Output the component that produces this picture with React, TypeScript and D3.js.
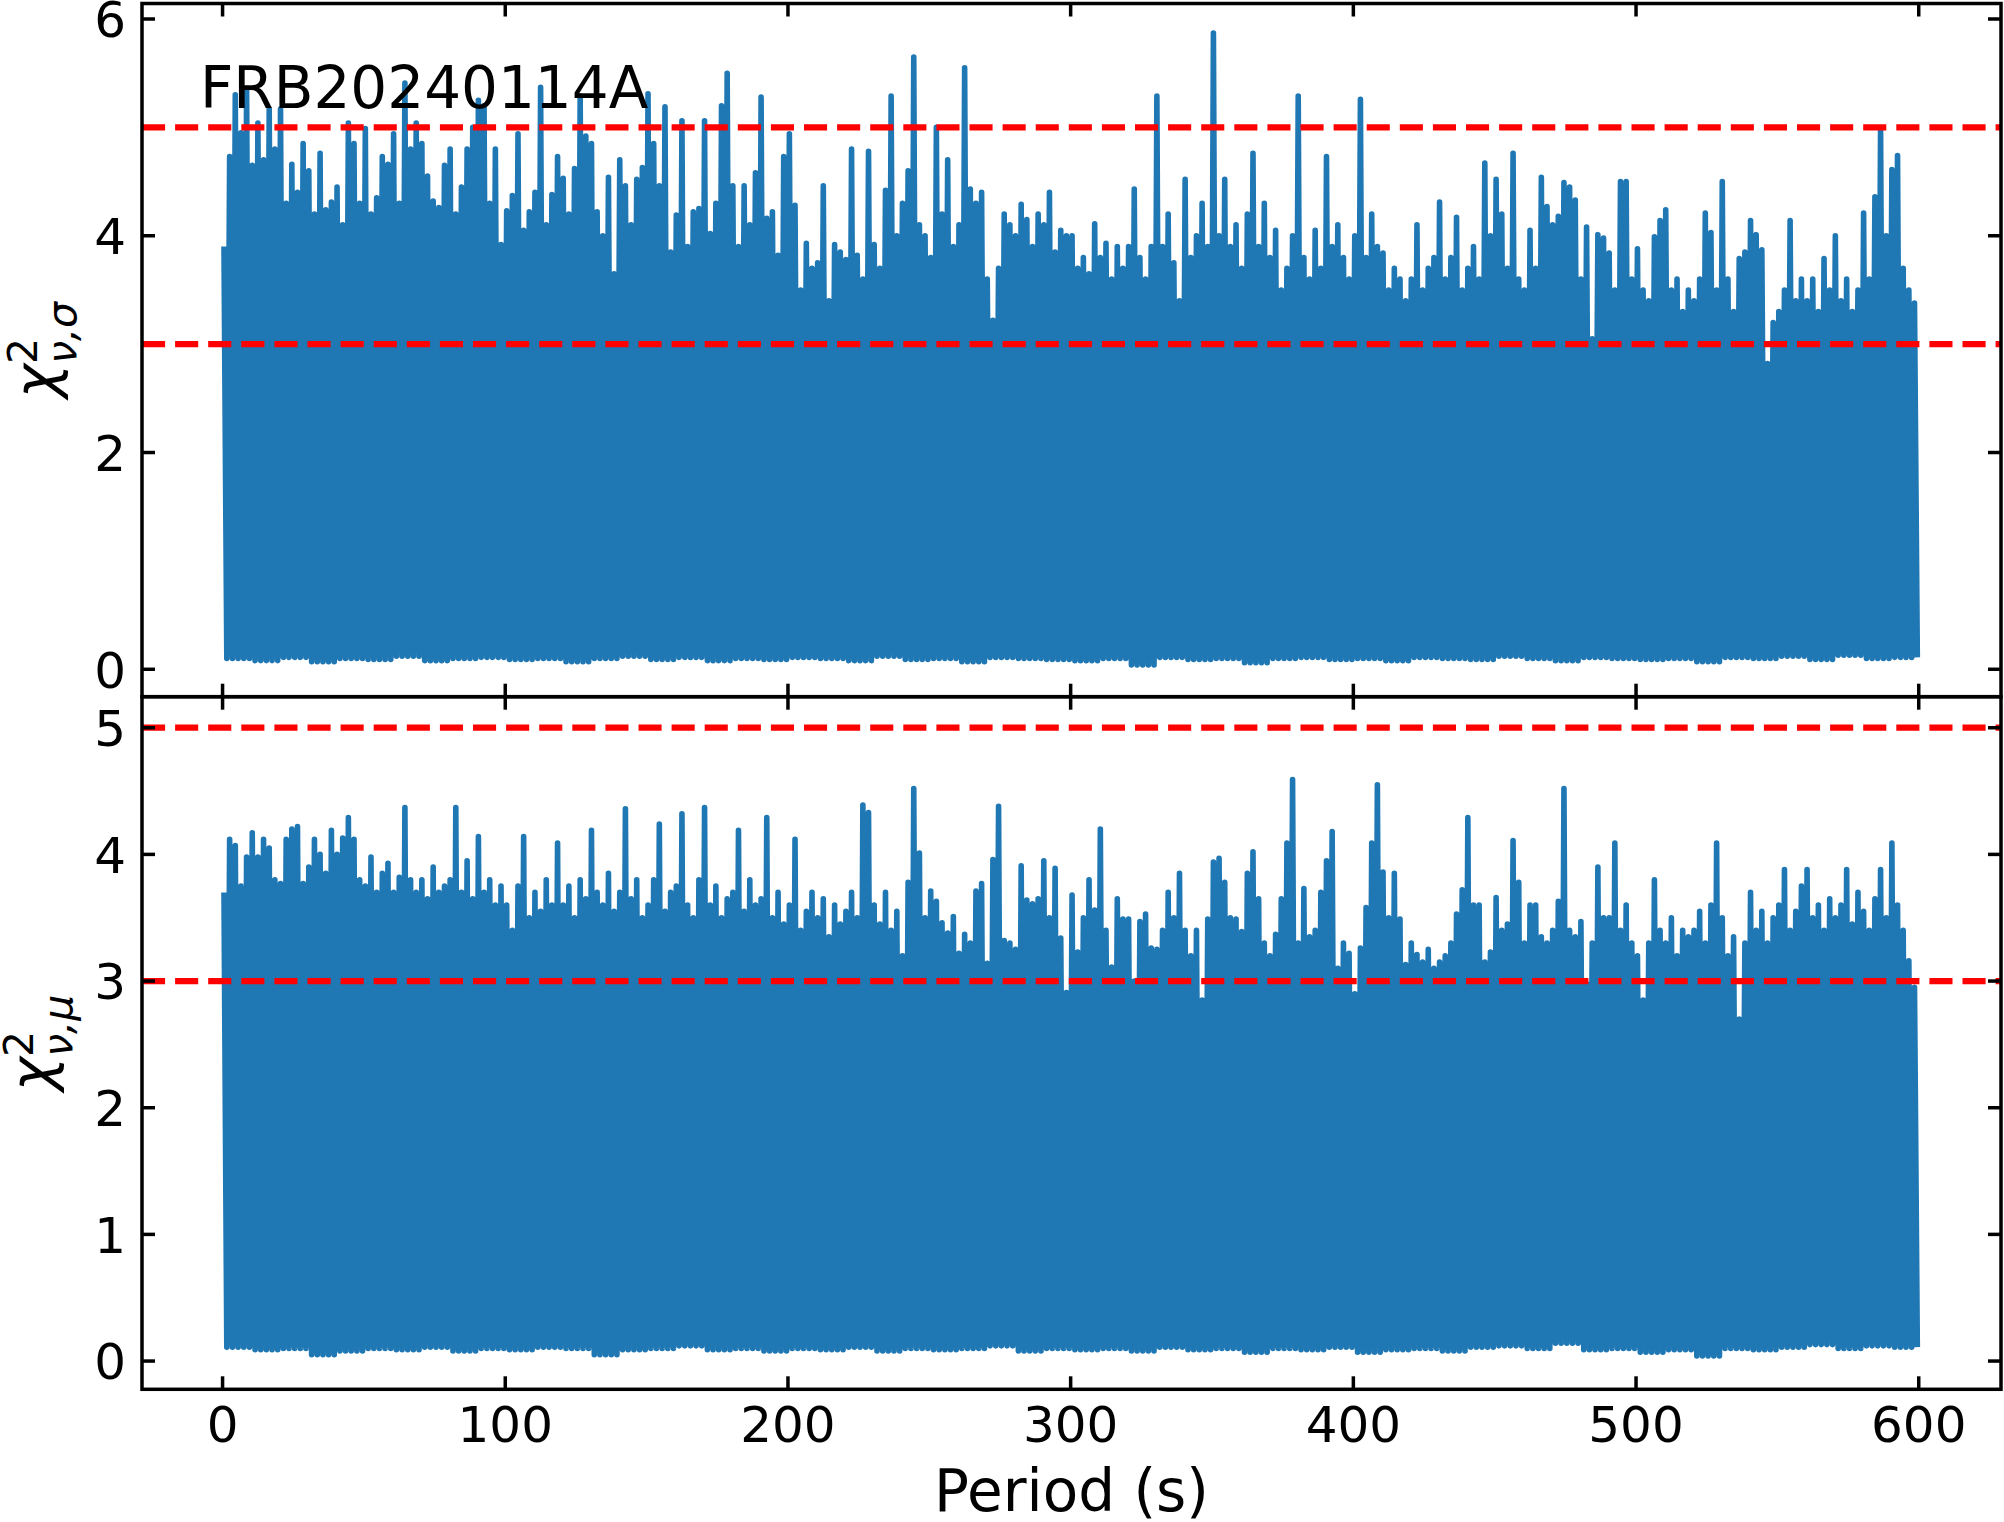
import React from "react";
import * as d3 from "d3";

// periodogram statistics, sampled every 2 s (peak of each bin, then the bin floor)
const sigmaPeaks = [
  3.9, 4.73, 5.3, 4.95, 5.36, 4.65, 5.04, 4.7, 5.17, 4.8,
  5.17, 4.3, 4.66, 4.4, 4.85, 4.6, 4.2, 4.76, 4.24, 4.31,
  4.45, 4.1, 5.04, 4.85, 4.3, 4.99, 4.2, 4.35, 4.73, 4.66,
  4.94, 4.3, 5.41, 4.8, 5.04, 4.85, 4.55, 4.32, 4.26, 4.65,
  4.8, 4.2, 4.45, 4.8, 5.0, 5.25, 5.2, 4.3, 4.8, 3.92,
  4.23, 4.37, 4.94, 4.05, 4.22, 4.4, 5.37, 4.1, 4.38, 4.73,
  4.53, 4.2, 4.62, 5.29, 4.92, 4.85, 4.22, 4.0, 4.54, 3.65,
  4.7, 4.46, 4.1, 4.52, 4.63, 5.31, 4.85, 4.46, 5.19, 3.85,
  4.19, 5.06, 3.9, 4.22, 4.25, 5.06, 4.02, 4.3, 5.2, 5.5,
  4.46, 3.9, 4.46, 4.1, 4.58, 5.28, 4.16, 4.22, 3.82, 4.73,
  4.94, 4.28, 3.5, 3.93, 3.7, 3.75, 4.46, 3.4, 3.92, 3.85,
  3.78, 4.8, 3.82, 3.6, 4.78, 3.92, 3.7, 4.42, 5.29, 4.0,
  4.3, 4.6, 5.65, 4.1, 4.0, 3.8, 5.0, 4.2, 4.7, 3.9,
  4.1, 5.55, 4.43, 4.3, 4.4, 3.6, 3.22, 3.7, 4.2, 4.1,
  4.0, 4.29, 4.15, 3.9, 4.2, 4.1, 4.4, 3.85, 4.05, 4.0,
  4.0, 3.7, 3.8, 3.65, 4.11, 3.8, 3.93, 3.6, 3.9, 3.7,
  3.9, 4.43, 3.8, 3.6, 3.9, 5.29, 3.9, 4.2, 3.75, 3.4,
  4.52, 3.8, 4.0, 4.3, 3.9, 5.87, 4.0, 4.52, 3.9, 4.1,
  3.7, 4.2, 4.76, 3.9, 4.3, 3.8, 4.05, 3.5, 3.7, 4.0,
  5.29, 3.8, 3.6, 4.05, 3.7, 4.73, 3.9, 4.1, 3.8, 3.6,
  4.0, 5.26, 3.8, 4.2, 3.9, 3.84, 3.5, 3.7, 3.6, 3.4,
  3.6, 4.1, 3.5, 3.7, 3.8, 4.31, 3.6, 3.8, 4.17, 3.5,
  3.7, 3.9, 3.6, 4.67, 4.0, 4.52, 4.2, 3.7, 4.76, 3.6,
  3.5, 4.05, 3.7, 4.54, 4.27, 4.1, 4.18, 4.49, 4.45, 4.33,
  3.6, 4.08, 3.05, 4.01, 3.98, 3.84, 3.5, 4.5, 4.5, 3.6,
  3.88, 3.5, 3.4, 3.99, 4.14, 4.24, 3.5, 3.6, 3.3, 3.5,
  3.4, 3.6, 4.21, 4.03, 3.5, 4.5, 3.6, 3.3, 3.79, 3.85,
  4.14, 4.01, 3.87, 2.82, 3.2, 3.3, 3.5, 4.14, 3.4, 3.6,
  3.4, 3.6, 3.3, 3.79, 3.5, 4.0, 3.4, 3.6, 3.3, 3.5,
  4.21, 3.6, 4.36, 4.99, 4.0, 4.61, 4.74, 3.7, 3.5, 3.38,
];

const muPeaks = [
  3.7, 4.12, 4.07, 3.75, 3.98, 4.17, 3.98, 4.12, 4.05, 3.8,
  3.77, 4.12, 4.2, 4.22, 3.77, 3.9, 4.12, 4.0, 3.85, 4.19,
  4.0, 4.13, 4.29, 4.12, 3.8, 3.75, 3.98, 3.7, 3.85, 3.93,
  3.7, 3.82, 4.37, 3.8, 3.7, 3.8, 3.65, 3.9, 3.7, 3.75,
  3.8, 4.37, 3.7, 3.95, 3.65, 4.14, 3.7, 3.8, 3.6, 3.75,
  3.6, 3.4, 3.75, 4.14, 3.5, 3.7, 3.55, 3.8, 3.6, 4.09,
  3.6, 3.75, 3.5, 3.8, 3.65, 4.19, 3.7, 3.6, 3.85, 3.55,
  3.7, 4.36, 3.65, 3.8, 3.5, 3.6, 3.8, 4.24, 3.55, 3.7,
  3.75, 4.32, 3.6, 3.5, 3.8, 4.37, 3.6, 3.75, 3.5, 3.65,
  3.7, 4.19, 3.55, 3.8, 3.6, 3.65, 4.29, 3.5, 3.7, 3.45,
  3.6, 4.12, 3.4, 3.55, 3.7, 3.5, 3.65, 3.35, 3.6, 3.45,
  3.55, 3.7, 3.5, 4.39, 4.33, 3.6, 3.45, 3.7, 3.4, 3.55,
  3.2, 3.78, 4.52, 4.01, 3.5, 3.71, 3.63, 3.46, 3.38, 3.51,
  3.22, 3.37, 3.3, 3.71, 3.77, 3.14, 3.96, 4.38, 3.32, 3.3,
  3.25, 3.91, 3.64, 3.61, 3.65, 3.95, 3.5, 3.89, 3.34, 2.91,
  3.68, 3.23, 3.5, 3.8, 3.56, 4.2, 3.4, 3.11, 3.65, 3.49,
  3.49, 3.0, 3.47, 3.53, 3.26, 3.25, 3.4, 3.7, 3.5, 3.85,
  3.4, 3.2, 3.4, 2.85, 3.49, 3.94, 3.97, 3.78, 3.5, 3.49,
  3.39, 3.85, 4.02, 3.65, 3.3, 3.2, 3.37, 3.65, 4.09, 4.59,
  3.3, 3.73, 3.35, 3.4, 3.7, 3.95, 4.18, 3.1, 3.3, 3.22,
  2.9, 3.26, 3.58, 4.09, 4.55, 3.86, 3.5, 3.85, 3.49, 3.13,
  3.3, 3.21, 3.15, 3.25, 3.1, 3.15, 3.2, 3.3, 3.53, 3.72,
  4.29, 3.6, 3.6, 3.15, 3.23, 3.66, 3.4, 3.45, 4.11, 3.78,
  3.3, 3.6, 3.6, 3.35, 3.3, 3.4, 3.63, 4.52, 3.4, 3.35,
  3.47, 2.98, 3.3, 3.9, 3.5, 3.5, 4.09, 3.4, 3.6, 3.3,
  3.2, 2.85, 3.3, 3.8, 3.4, 3.3, 3.5, 3.2, 3.4, 3.35,
  3.4, 3.55, 3.3, 3.6, 4.09, 3.5, 3.2, 3.35, 2.7, 3.3,
  3.7, 3.4, 3.55, 3.3, 3.5, 3.6, 3.88, 3.4, 3.55, 3.75,
  3.88, 3.5, 3.6, 3.4, 3.65, 3.5, 3.6, 3.88, 3.45, 3.7,
  3.55, 3.4, 3.65, 3.88, 3.5, 4.09, 3.6, 3.4, 3.16, 2.95,
];

// bin floors, one per 10 s
const sigmaFloors = [
  0.1, 0.08, 0.11, 0.07, 0.1, 0.09, 0.12, 0.08, 0.1, 0.11,
  0.09, 0.1, 0.07, 0.1, 0.12, 0.09, 0.11, 0.08, 0.1, 0.09,
  0.11, 0.1, 0.08, 0.12, 0.09, 0.1, 0.07, 0.11, 0.1, 0.09,
  0.08, 0.1, 0.04, 0.11, 0.09, 0.1, 0.06, 0.1, 0.11, 0.09,
  0.1, 0.08, 0.11, 0.1, 0.09, 0.12, 0.1, 0.08, 0.11, 0.1,
  0.09, 0.1, 0.07, 0.11, 0.1, 0.12, 0.09, 0.13, 0.1, 0.11,
];
const muFloors = [
  0.11, 0.09, 0.1, 0.05, 0.08, 0.1, 0.09, 0.11, 0.08, 0.1,
  0.09, 0.11, 0.1, 0.05, 0.09, 0.1, 0.12, 0.09, 0.1, 0.08,
  0.1, 0.09, 0.11, 0.08, 0.1, 0.09, 0.1, 0.12, 0.08, 0.1,
  0.09, 0.1, 0.08, 0.11, 0.09, 0.1, 0.07, 0.1, 0.09, 0.11,
  0.07, 0.09, 0.1, 0.08, 0.11, 0.12, 0.1, 0.14, 0.09, 0.1,
  0.07, 0.09, 0.04, 0.1, 0.09, 0.11, 0.13, 0.1, 0.12, 0.11,
];

const periodTicks = [0, 100, 200, 300, 400, 500, 600];
const sigmaTicks = [0, 2, 4, 6];
const muTicks = [0, 1, 2, 3, 4, 5];
const thresholds = [3, 5];

const W = 2004;
const H = 1522;
const left = 142;
const right = 2001;
const panelTop = { y0: 3.5, y1: 696.7 };
const panelBottom = { y0: 696.7, y1: 1389.3 };
const font = "DejaVu Sans";
const tickLen = 13;
const blue = "#1f77b4";

const samplePeriods = d3.range(0.5, 600, 2);

function buildSeries(peaks: number[], floors: number[]): [number, number][] {
  const pts: [number, number][] = [];
  peaks.forEach((v, i) => {
    const p = samplePeriods[i];
    pts.push([p, v]);
    pts.push([p + 1, floors[Math.floor(i / 5)]]);
  });
  return pts;
}

const x = d3.scaleLinear().domain([-28.5, 629.1]).range([left, right]);

type PanelProps = {
  id: string;
  y0: number;
  y1: number;
  domain: [number, number];
  ticks: number[];
  series: [number, number][];
  showXLabels: boolean;
  label: string;
  labelX: number;
};

function Panel({ id, y0, y1, domain, ticks, series, showXLabels, label, labelX }: PanelProps) {
  const y = d3.scaleLinear().domain(domain).range([y1, y0]);
  const line = d3
    .line<[number, number]>()
    .x((d) => x(d[0]))
    .y((d) => y(d[1]));
  const cy = (y0 + y1) / 2;
  return (
    <g>
      <clipPath id={id}>
        <rect x={left} y={y0} width={right - left} height={y1 - y0} />
      </clipPath>
      <g clipPath={`url(#${id})`}>
        <path d={line(series) || ""} fill="none" stroke={blue} strokeWidth={5.6} strokeLinejoin="round" />
        {thresholds.map((t) => (
          <line
            key={t}
            x1={left}
            x2={right}
            y1={y(t)}
            y2={y(t)}
            stroke="#ff0000"
            strokeWidth={6.25}
            strokeDasharray="23.1 10"
          />
        ))}
      </g>
      {/* ticks point inward on all four sides */}
      {ticks.map((t) => (
        <g key={t}>
          <line x1={left} x2={left + tickLen} y1={y(t)} y2={y(t)} stroke="black" strokeWidth={3.5} />
          <line x1={right} x2={right - tickLen} y1={y(t)} y2={y(t)} stroke="black" strokeWidth={3.5} />
          <text x={126} y={y(t) + 18.3} textAnchor="end" fontSize={50} fontFamily={font}>
            {t}
          </text>
        </g>
      ))}
      {periodTicks.map((t) => (
        <g key={t}>
          <line x1={x(t)} x2={x(t)} y1={y0} y2={y0 + tickLen} stroke="black" strokeWidth={3.5} />
          <line x1={x(t)} x2={x(t)} y1={y1} y2={y1 - tickLen} stroke="black" strokeWidth={3.5} />
          {showXLabels && (
            <text x={x(t)} y={1442} textAnchor="middle" fontSize={50} fontFamily={font}>
              {t}
            </text>
          )}
        </g>
      ))}
      <rect x={left} y={y0} width={right - left} height={y1 - y0} fill="none" stroke="black" strokeWidth={3.5} />
      <text transform={`translate(${labelX},${cy}) rotate(-90)`} textAnchor="middle" fontSize={58} fontFamily={font}>
        <tspan fontStyle="italic">χ</tspan>
        <tspan fontSize={41} dy={-19}>2</tspan>
        <tspan fontSize={41} fontStyle="italic" dx={-26} dy={39}>
          {label}
        </tspan>
      </text>
    </g>
  );
}

export default function App() {
  const sigmaSeries = buildSeries(sigmaPeaks, sigmaFloors);
  const muSeries = buildSeries(muPeaks, muFloors);
  return (
    <svg
      width={W}
      height={H}
      style={{ position: "absolute", left: 0, top: 0, background: "white" }}
    >
      <Panel
        id="clip-sigma"
        y0={panelTop.y0}
        y1={panelTop.y1}
        domain={[-0.253, 6.143]}
        ticks={sigmaTicks}
        series={sigmaSeries}
        showXLabels={false}
        label="ν,σ"
        labelX={56}
      />
      <Panel
        id="clip-mu"
        y0={panelBottom.y0}
        y1={panelBottom.y1}
        domain={[-0.223, 5.245]}
        ticks={muTicks}
        series={muSeries}
        showXLabels={true}
        label="ν,μ"
        labelX={52}
      />
      <text x={200} y={108} fontSize={58} fontFamily={font}>
        FRB20240114A
      </text>
      <text x={(left + right) / 2} y={1511} textAnchor="middle" fontSize={58} fontFamily={font}>
        Period (s)
      </text>
    </svg>
  );
}
